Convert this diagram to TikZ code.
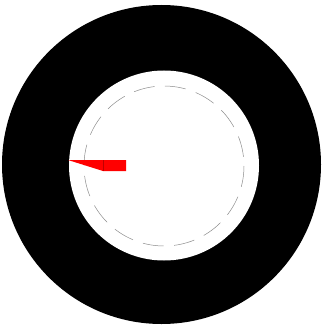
\documentclass[tikz,border=0pt]{standalone}
\usepackage{tikz}

\begin{document}
\begin{tikzpicture}[
				x=1pt, y=-1pt,
				ring/.style={fill=black},
				hole/.style={fill=white},
				guide/.style={draw=black!45, line width=0.5pt, dash pattern=on 21pt off 10.5pt},
				needle/.style={fill=red, draw=red!80!black, line width=0.2pt}
				]
				
				% Frame
				\useasboundingbox (0,0) rectangle (321,326);
				
				% Disc and opening
				\fill[ring] (161.5,164.5) circle[radius=159.5];
				\fill[hole] (164,165.5) circle[radius=95];
				
				% Dashed guide circle
				\draw[guide] (164,166) circle[radius=80];
				
				% Pointer
				\fill[red] (68,160) -- (126,160) -- (126,171) -- (103,171) -- cycle;
				\draw[red!75!black, line width=0.3pt] (103,160) -- (103,171);
				
			\end{tikzpicture}
\end{document}
